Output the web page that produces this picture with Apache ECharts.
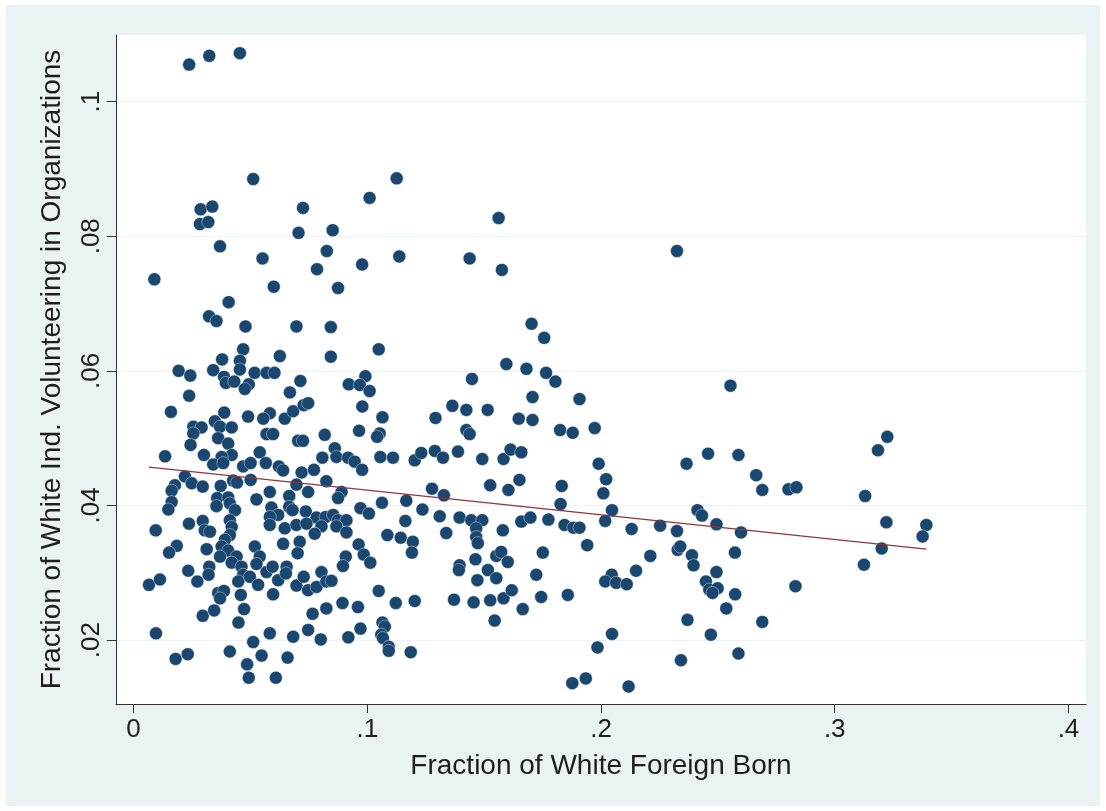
<!DOCTYPE html>
<html>
<head>
<meta charset="utf-8">
<script src="https://cdn.jsdelivr.net/npm/echarts@6/dist/echarts.min.js"></script>
<style>
  html, body { margin: 0; padding: 0; background: #fff; }
  #chart { width: 1106px; height: 811px; }
</style>
</head>
<body>
<div id="chart"></div>
<script>
// fraction of white foreign born (x) / fraction volunteering (y), paired by index
const foreignBorn = [
  .0238, .0324, .0455, .0512, .0287, .0337, .0284, .0320, .0725, .0706,
  .0852, .0370, .0827, .0552, .0785, .0089, .0600, .0407, .0323, .0355,
  .0479, .0697, .0844, .0469, .0379, .0455, .0626, .0844, .0193, .0243,
  .0341, .0455, .0387, .0395, .0431, .0518, .0569, .0603, .0493, .0476,
  .0714, .0669, .0238, .0160, .0388, .0490, .0583, .0555, .0647, .0683,
  .0728, .0747, .0348, .0256, .0291, .0370, .0420, .0256, .0569, .0597,
  .0704, .0725, .0818, .0362, .0405, .0244, .0420, .0301, .0377, .0540,
  .0135, .0808, .0341, .0384, .0469, .0501, .0566, .0622, .0640, .0719,
  .0772, .0220, .0249, .0296, .0177, .0163, .0373, .0426, .0443, .0501,
  .0697, .0747, .0825, .0583, .0358, .0405, .0526, .0666, .0163, .0149,
  .0355, .0412, .0434, .0666, .0590, .0737, .0619, .0583, .0680, .0783,
  .0822, .0095, .0237, .0296, .0305, .0327, .0412, .0420, .0583, .0647,
  .0697, .0740, .0804, .0775, .0412, .0391, .0711, .0640, .0185, .0152,
  .0313, .0377, .0405, .0441, .0519, .0540, .0702, .0370, .0066, .0113,
  .0234, .0273, .0324, .0321, .0420, .0462, .0469, .0448, .0498, .0533,
  .0526, .0569, .0595, .0619, .0655, .0652, .0697, .0728, .0747, .0783,
  .0804, .0825, .0362, .0387, .0370, .0459, .0597, .0345, .0296, .0473,
  .0449, .0766, .0825, .0096, .0583, .0512, .0683, .0747, .0801, .0180,
  .0232, .0412, .0548, .0486, .0659, .0493, .0609, .1126, .1010, .1562,
  .0978, .1137, .1438, .1576, .0875, .1703, .1049, .1595, .1681, .1448,
  .0921, .0992, .0968, .1010, .1707, .0979, .1065, .1364, .1424, .1515,
  .1292, .1648, .1707, .0965, .1053, .1042, .1424, .1438, .0861, .0868,
  .0918, .0946, .0978, .1056, .1110, .1203, .1231, .1289, .1324, .1388,
  .1492, .1583, .1613, .1659, .0890, .0875, .1277, .1328, .1526, .1604,
  .1651, .1063, .1167, .1236, .0971, .1007, .0854, .0875, .0911, .0868,
  .0911, .1163, .1310, .1395, .1445, .1492, .1466, .1466, .1473, .1659,
  .1698, .1580, .1338, .1086, .1143, .1195, .1191, .0963, .0985, .1013,
  .0908, .0896, .0847, .1463, .1395, .1392, .1552, .1573, .1601, .1516,
  .1552, .1471, .1049, .0894, .0960, .1122, .1203, .1371, .1455, .1526,
  .1583, .1618, .1665, .1545, .1065, .1075, .0971, .1060, .1067, .0919,
  .1092, .1092, .1186, .2325, .1757, .1765, .1805, .1908, .2554, .1825,
  .1879, .1973, .2458, .2588, .2366, .1990, .2664, .2690, .1832, .2022,
  .2010, .1827, .1775, .1844, .1882, .1908, .2047, .2018, .2131, .2253,
  .2325, .2413, .2432, .2494, .2599, .1941, .1751, .2211, .2328, .2339,
  .2389, .2396, .2573, .2150, .1723, .2046, .2018, .2065, .2110, .2449,
  .2494, .2463, .2499, .2477, .2574, .1744, .1858, .2536, .2690, .2370,
  .2470, .2047, .1985, .2588, .2342, .1877, .1935, .2118, .3225, .3185,
  .2802, .2836, .3130, .3221, .3392, .3376, .3201, .3125, .2832
];

const volunteering = [
  .1055, .1068, .1072, .0885, .0840, .0844, .0818, .0821, .0842, .0805,
  .0809, .0785, .0778, .0767, .0751, .0736, .0725, .0702, .0681, .0674,
  .0666, .0666, .0665, .0632, .0617, .0615, .0622, .0621, .0600, .0593,
  .0601, .0602, .0591, .0582, .0584, .0597, .0597, .0597, .0580, .0573,
  .0585, .0568, .0563, .0539, .0538, .0532, .0537, .0529, .0529, .0540,
  .0549, .0552, .0525, .0517, .0516, .0517, .0516, .0507, .0506, .0506,
  .0496, .0496, .0505, .0500, .0492, .0490, .0475, .0475, .0472, .0479,
  .0473, .0471, .0461, .0463, .0458, .0463, .0463, .0458, .0452, .0449,
  .0453, .0443, .0433, .0428, .0430, .0422, .0429, .0437, .0434, .0438,
  .0431, .0420, .0436, .0420, .0411, .0412, .0409, .0414, .0405, .0394,
  .0399, .0403, .0393, .0398, .0397, .0391, .0386, .0383, .0393, .0382,
  .0383, .0363, .0373, .0377, .0363, .0361, .0378, .0368, .0371, .0366,
  .0371, .0373, .0369, .0358, .0356, .0349, .0346, .0343, .0340, .0330,
  .0335, .0339, .0333, .0324, .0339, .0324, .0329, .0324, .0282, .0290,
  .0303, .0287, .0309, .0297, .0315, .0309, .0297, .0287, .0294, .0282,
  .0313, .0301, .0309, .0289, .0309, .0299, .0281, .0294, .0274, .0279,
  .0301, .0287, .0270, .0273, .0262, .0267, .0268, .0244, .0236, .0246,
  .0226, .0239, .0247, .0210, .0210, .0197, .0205, .0215, .0201, .0172,
  .0179, .0183, .0177, .0164, .0174, .0144, .0144, .0886, .0857, .0827,
  .0758, .0770, .0767, .0750, .0723, .0670, .0632, .0610, .0603, .0588,
  .0580, .0592, .0579, .0570, .0561, .0547, .0531, .0548, .0542, .0542,
  .0530, .0529, .0527, .0511, .0507, .0502, .0512, .0506, .0485, .0472,
  .0471, .0465, .0453, .0472, .0471, .0467, .0478, .0481, .0471, .0480,
  .0469, .0469, .0483, .0479, .0420, .0411, .0425, .0415, .0430, .0423,
  .0438, .0404, .0407, .0394, .0396, .0388, .0386, .0378, .0378, .0369,
  .0360, .0377, .0384, .0382, .0378, .0378, .0366, .0353, .0344, .0376,
  .0382, .0363, .0359, .0356, .0352, .0346, .0330, .0342, .0327, .0315,
  .0324, .0310, .0288, .0320, .0311, .0304, .0325, .0331, .0316, .0304,
  .0292, .0289, .0273, .0255, .0249, .0255, .0258, .0260, .0256, .0259,
  .0262, .0274, .0246, .0229, .0226, .0220, .0217, .0208, .0203, .0204,
  .0190, .0184, .0182, .0778, .0649, .0597, .0584, .0558, .0578, .0512,
  .0508, .0515, .0477, .0475, .0462, .0462, .0445, .0423, .0429, .0439,
  .0418, .0402, .0379, .0371, .0367, .0367, .0393, .0377, .0365, .0370,
  .0362, .0393, .0385, .0372, .0360, .0341, .0330, .0325, .0334, .0339,
  .0326, .0311, .0330, .0303, .0297, .0297, .0287, .0285, .0283, .0287,
  .0301, .0275, .0277, .0270, .0268, .0264, .0267, .0247, .0227, .0230,
  .0208, .0209, .0189, .0180, .0170, .0136, .0143, .0131, .0502, .0482,
  .0424, .0427, .0414, .0375, .0371, .0354, .0336, .0312, .0280
];

// fitted line end points
const fitX = [0.0066, 0.3392];
const fitY = [0.0457, 0.0335];

const xTicks = [0, 0.1, 0.2, 0.3, 0.4];
const yTicks = [0.02, 0.04, 0.06, 0.08, 0.1];

const textFont = '"Liberation Sans", Arial, Helvetica, sans-serif';
const textColor = '#1e1e1e';

// stata style tick labels: 0, .1, .02 ...
function stataLabel(v) {
    if (v === 0) return '0';
    return String(+v.toFixed(4)).replace(/^0\./, '.');
}

let points = foreignBorn.map(function (x, i) { return [x, volunteering[i]]; });
let fitLine = fitX.map(function (x, i) { return [x, fitY[i]]; });

let chart = echarts.init(document.getElementById('chart'), null, {renderer: 'canvas'});

chart.setOption({
    animation: false,
    backgroundColor: '#ffffff',
    graphic: [{
        type: 'rect',
        z: -10,
        silent: true,
        shape: {x: 6, y: 5, width: 1094, height: 801},
        style: {fill: '#eaf2f3'}
    }],
    grid: {
        left: 116, right: 20, top: 35, bottom: 107,
        show: true,
        backgroundColor: '#ffffff',
        borderWidth: 0
    },
    xAxis: {
        type: 'value',
        min: -0.0075,
        max: 0.4075,
        name: 'Fraction of White Foreign Born',
        nameLocation: 'middle',
        nameGap: 48,
        nameTextStyle: {fontFamily: textFont, fontSize: 28, color: textColor},
        axisLine: {show: true, onZero: false, lineStyle: {color: '#333', width: 1}},
        axisTick: {show: true, length: 9, customValues: xTicks, lineStyle: {color: '#333'}},
        axisLabel: {
            customValues: xTicks,
            margin: 13,
            fontFamily: textFont, fontSize: 26, color: textColor,
            formatter: stataLabel
        },
        splitLine: {show: false}
    },
    yAxis: {
        type: 'value',
        min: 0.0105,
        max: 0.1099,
        name: 'Fraction of White Ind. Volunteering in Organizations',
        nameLocation: 'middle',
        nameGap: 50,
        nameTextStyle: {fontFamily: textFont, fontSize: 28, color: textColor},
        axisLine: {show: true, onZero: false, lineStyle: {color: '#333', width: 1}},
        axisTick: {show: true, length: 9, customValues: yTicks, lineStyle: {color: '#333'}},
        axisLabel: {
            customValues: yTicks,
            rotate: 90,
            margin: 11,
            fontFamily: textFont, fontSize: 26, color: textColor,
            formatter: stataLabel
        },
        splitLine: {show: true, lineStyle: {color: '#eaf2f3', width: 1}}
    },
    series: [
        {
            type: 'scatter',
            data: points,
            symbol: 'circle',
            symbolSize: 13,
            itemStyle: {color: '#1a476f', opacity: 1, borderColor: '#ffffff', borderWidth: 0.4},
            z: 2
        },
        {
            type: 'line',
            data: fitLine,
            symbol: 'none',
            lineStyle: {color: '#90353b', width: 1.2},
            z: 3
        }
    ]
});
</script>
</body>
</html>
